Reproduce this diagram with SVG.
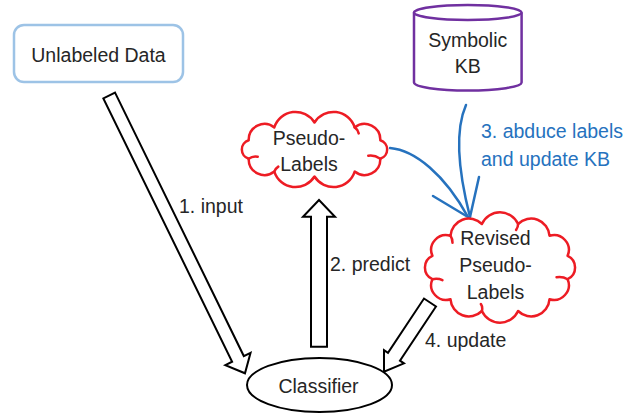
<svg xmlns="http://www.w3.org/2000/svg" width="644" height="415" viewBox="0 0 644 415">
<style>
  .t { font-family: "Liberation Sans", Arial, sans-serif; font-size: 19.5px; fill: #262626; }
  .c { text-anchor: middle; }
  .b { fill: #2672BE; }
  .blk { fill: #fff; stroke: #000; stroke-width: 2; stroke-linejoin: miter; }
  .cloud { fill: #fff; stroke: #ED1C24; stroke-width: 2.5; stroke-linejoin: round; }
  .curl { fill: none; stroke: #ED1C24; stroke-width: 2.5; stroke-linecap: round; }
  .blue { fill: none; stroke: #2672BE; stroke-width: 2.5; stroke-linecap: round; }
</style>
<rect width="644" height="415" fill="#fff"/>

<g id="connectors">
  <polygon class="blk" transform="translate(109.2,95.5) rotate(63.95)" points="0,-6.5 293.2,-6.5 293.2,-14 309.2,0 293.2,14 293.2,6.5 0,6.5"/>
  <polygon class="blk" points="311,346.7 311,216.7 303,216.7 319,200 335,216.7 327,216.7 327,346.7"/>
  <polygon class="blk" transform="translate(430,302.5) rotate(123.6)" points="0,-7.2 65.1,-7.2 65.1,-12 83.1,0 65.1,12 65.1,7.2 0,7.2"/>
  <path class="blue" d="M390,148 C415,150 445,175 468,217"/>
  <path class="blue" d="M433,196 L468,217"/>
  <path class="blue" d="M466,105 C455,130 458,170 470,217"/>
  <path class="blue" d="M479,177 L470,217"/>
  <text class="t" x="179" y="212.7">1. input</text>
  <text class="t" x="330" y="271">2. predict</text>
  <text class="t b" x="481" y="138.3">3. abduce labels</text>
  <text class="t b" x="481" y="165.7">and update KB</text>
  <text class="t" x="425" y="346.7">4. update</text>
</g>

<g id="unlabeled-data">
  <rect x="14" y="25" width="169" height="57" rx="10" fill="#fff" stroke="#9DC3E6" stroke-width="2.5"/>
  <text class="t c" x="98.5" y="62.3">Unlabeled Data</text>
</g>

<g id="symbolic-kb">
  <path d="M414,12.5 V82.5 A53.8,8 0 0 0 521.6,82.5 V12.5" fill="#fff" stroke="#7030A0" stroke-width="2.5"/>
  <ellipse cx="467.8" cy="12.5" rx="53.8" ry="7.5" fill="#fff" stroke="#7030A0" stroke-width="2.5"/>
  <text class="t c" x="467.7" y="47">Symbolic</text>
  <text class="t c" x="467.7" y="72.7">KB</text>
</g>

<g id="pseudo-labels">
  <path class="cloud" d="M380.3,158.7 A15.8,15.8 0 0 1 354.7,171.6 A22.3,22.3 0 0 1 314.5,176.5 A22.3,22.3 0 0 1 274.3,171.6 A15.8,15.8 0 0 1 248.7,158.7 A9.6,9.6 0 0 1 248.7,140.3 A15.8,15.8 0 0 1 274.3,127.4 A22.3,22.3 0 0 1 314.5,122.5 A22.3,22.3 0 0 1 354.7,127.4 A15.8,15.8 0 0 1 380.3,140.3 A9.6,9.6 0 0 1 380.3,158.7 Z"/>
  <path class="curl" d="M248.7,158.7 q4,-3 9,-2 M354.7,127.4 q3,2 4,6 M380.3,158.7 q-6,-4 -12,-3 M274.3,171.6 q1,-3 4,-5"/>
  <text class="t c" x="309" y="145">Pseudo-</text>
  <text class="t c" x="309" y="170.7">Labels</text>
</g>

<g id="revised-pseudo-labels">
  <path class="cloud" d="M567.6,279.2 A14.9,14.9 0 0 1 549.5,299.3 A18.4,18.4 0 0 1 518.1,311 A19.9,19.9 0 0 1 481.9,311 A18.4,18.4 0 0 1 450.5,299.3 A14.9,14.9 0 0 1 432.4,279.2 A12.9,12.9 0 0 1 432.4,255.8 A14.9,14.9 0 0 1 450.5,235.7 A18.4,18.4 0 0 1 481.9,224 A19.9,19.9 0 0 1 518.1,224 A18.4,18.4 0 0 1 549.5,235.7 A14.9,14.9 0 0 1 567.6,255.8 A12.9,12.9 0 0 1 567.6,279.2 Z"/>
  <path class="curl" d="M432.4,279.2 q6,-1 10,1 M450.5,235.7 q2,3 2,7 M518.1,224 q0,3 -2,6 M567.6,279.2 q-5,-3 -11,-2 M481.9,311 q1,-4 -1,-7"/>
  <text class="t c" x="495.5" y="245">Revised</text>
  <text class="t c" x="495.5" y="271.7">Pseudo-</text>
  <text class="t c" x="495.5" y="299.3">Labels</text>
</g>

<g id="classifier">
  <ellipse cx="319.5" cy="385" rx="72.5" ry="27" fill="#fff" stroke="#000" stroke-width="2"/>
  <text class="t c" x="318.5" y="392.7">Classifier</text>
</g>
</svg>
